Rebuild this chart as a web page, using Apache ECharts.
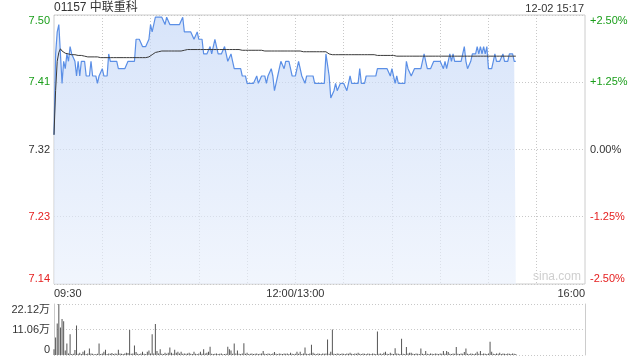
<!DOCTYPE html>
<html><head><meta charset="utf-8">
<script src="https://cdn.jsdelivr.net/npm/echarts@6/dist/echarts.min.js"></script>
<style>html,body{margin:0;padding:0;background:#fff}#c{width:640px;height:360px}</style>
</head><body><div id="c"></div>
<script>
const titleText = '01157 中联重科';
const stampText = '12-02 15:17';
const prevClose = 7.32;
const priceMin = 7.137, priceMax = 7.503, priceStep = 0.0915;
const pctMin = -2.5, pctMax = 2.5, pctStep = 1.25;
const volMax = 22.12, volStep = 11.06;
const xTickLabels = {0: '09:30', 150: '12:00/13:00', 330: '16:00'};
const gridEvery = 30;

// one-minute price (HKD), 09:30 -> 15:17
const price = [
7.34,7.45,7.48,7.49,7.49,7.41,7.44,7.43,7.45,7.44,
7.46,7.45,7.45,7.44,7.42,7.44,7.42,7.44,7.44,7.44,
7.42,7.42,7.42,7.44,7.42,7.42,7.42,7.41,7.42,7.42,
7.43,7.42,7.42,7.42,7.45,7.44,7.44,7.44,7.44,7.44,
7.43,7.43,7.43,7.43,7.43,7.43,7.44,7.44,7.44,7.44,
7.44,7.47,7.47,7.47,7.47,7.46,7.46,7.46,7.46,7.47,
7.49,7.48,7.48,7.50,7.50,7.50,7.50,7.50,7.50,7.49,
7.50,7.50,7.49,7.49,7.49,7.49,7.49,7.49,7.49,7.49,
7.50,7.48,7.48,7.48,7.48,7.48,7.48,7.47,7.47,7.48,
7.47,7.47,7.47,7.45,7.45,7.45,7.45,7.46,7.45,7.45,
7.47,7.46,7.45,7.45,7.45,7.45,7.46,7.45,7.44,7.44,
7.45,7.44,7.43,7.43,7.43,7.43,7.43,7.42,7.42,7.42,
7.41,7.41,7.41,7.41,7.41,7.41,7.42,7.41,7.41,7.42,
7.42,7.42,7.41,7.42,7.42,7.43,7.42,7.40,7.41,7.42,
7.43,7.44,7.44,7.43,7.44,7.44,7.44,7.43,7.42,7.42,
7.42,7.42,7.44,7.43,7.42,7.42,7.41,7.42,7.42,7.42,
7.42,7.42,7.41,7.41,7.41,7.41,7.41,7.41,7.41,7.45,
7.45,7.42,7.39,7.39,7.40,7.41,7.40,7.40,7.41,7.41,
7.41,7.41,7.40,7.41,7.42,7.41,7.41,7.41,7.41,7.41,
7.43,7.41,7.41,7.41,7.42,7.42,7.42,7.42,7.42,7.42,
7.42,7.43,7.43,7.43,7.43,7.43,7.43,7.43,7.43,7.42,
7.43,7.42,7.41,7.42,7.41,7.41,7.41,7.41,7.41,7.44,
7.43,7.43,7.42,7.42,7.43,7.43,7.43,7.43,7.43,7.43,
7.45,7.44,7.43,7.43,7.43,7.43,7.44,7.44,7.44,7.44,
7.44,7.44,7.43,7.44,7.43,7.43,7.45,7.44,7.45,7.44,
7.44,7.44,7.44,7.44,7.45,7.46,7.44,7.43,7.43,7.44,
7.45,7.45,7.45,7.46,7.45,7.46,7.45,7.46,7.45,7.46,
7.43,7.43,7.43,7.44,7.45,7.44,7.44,7.44,7.44,7.45,
7.44,7.44,7.44,7.45,7.45,7.45,7.44,7.44
];

// one-minute average price
const avgPrice = [
7.340,7.400,7.440,7.452,7.457,7.454,7.452,7.451,7.450,7.450,
7.449,7.449,7.449,7.449,7.448,7.448,7.448,7.448,7.447,7.447,
7.447,7.446,7.446,7.446,7.446,7.446,7.446,7.446,7.445,7.445,
7.445,7.445,7.445,7.445,7.445,7.445,7.445,7.445,7.445,7.445,
7.445,7.445,7.445,7.445,7.445,7.445,7.445,7.445,7.445,7.445,
7.445,7.445,7.445,7.445,7.445,7.445,7.445,7.445,7.445,7.446,
7.447,7.449,7.451,7.452,7.452,7.453,7.454,7.454,7.454,7.454,
7.454,7.454,7.454,7.454,7.454,7.454,7.454,7.454,7.454,7.454,
7.455,7.455,7.456,7.456,7.456,7.456,7.456,7.456,7.456,7.456,
7.456,7.456,7.456,7.456,7.456,7.456,7.456,7.456,7.456,7.456,
7.456,7.456,7.456,7.456,7.456,7.456,7.456,7.456,7.456,7.456,
7.456,7.456,7.456,7.456,7.456,7.456,7.456,7.455,7.455,7.455,
7.455,7.455,7.455,7.455,7.455,7.455,7.455,7.455,7.455,7.455,
7.454,7.454,7.454,7.454,7.454,7.454,7.454,7.454,7.454,7.454,
7.454,7.454,7.454,7.454,7.454,7.454,7.454,7.454,7.454,7.454,
7.454,7.454,7.454,7.454,7.454,7.453,7.453,7.453,7.453,7.453,
7.453,7.453,7.453,7.453,7.453,7.453,7.453,7.453,7.453,7.453,
7.451,7.450,7.449,7.449,7.449,7.449,7.449,7.449,7.449,7.449,
7.449,7.449,7.449,7.449,7.449,7.449,7.449,7.449,7.449,7.449,
7.449,7.449,7.449,7.449,7.449,7.449,7.449,7.449,7.449,7.449,
7.448,7.448,7.448,7.448,7.448,7.448,7.448,7.448,7.448,7.448,
7.448,7.448,7.448,7.447,7.447,7.447,7.447,7.447,7.447,7.447,
7.447,7.447,7.447,7.447,7.447,7.447,7.447,7.447,7.447,7.447,
7.447,7.447,7.447,7.447,7.447,7.447,7.447,7.447,7.447,7.447,
7.447,7.447,7.447,7.447,7.447,7.447,7.447,7.447,7.447,7.447,
7.447,7.447,7.447,7.447,7.447,7.447,7.447,7.447,7.447,7.447,
7.447,7.447,7.447,7.447,7.447,7.447,7.447,7.447,7.447,7.447,
7.447,7.447,7.447,7.447,7.447,7.447,7.447,7.447,7.447,7.447,
7.447,7.447,7.447,7.447,7.447,7.447,7.447,7.447
];

// one-minute volume (万股)
const volume = [
2.5,7.6,13.7,22.12,11.9,15.6,14.6,2.0,5.0,0.6,
9.0,0.4,0.5,2.2,12.8,0.5,1.0,0.4,1.4,2.0,
0.4,0.6,2.8,0.6,0.5,0.3,0.4,0.5,5.0,0.4,
0.6,1.4,2.3,0.4,0.6,0.5,0.9,0.4,0.6,0.5,
2.3,0.7,0.5,0.4,0.6,1.0,0.9,10.8,0.5,0.6,
4.1,1.3,0.5,0.4,0.6,1.4,0.5,0.4,1.4,2.0,
0.7,9.0,0.6,13.4,1.7,0.6,2.5,0.5,0.4,1.0,
0.5,1.0,3.2,1.0,0.5,2.3,1.0,1.4,0.6,1.4,
0.5,0.6,0.5,0.6,1.0,0.5,0.4,1.4,0.5,0.4,
0.6,1.4,0.5,2.5,0.6,1.0,1.4,3.6,0.5,0.4,
0.5,0.6,0.4,0.5,0.6,0.3,0.4,0.5,3.6,2.5,
2.0,0.5,5.0,0.6,2.0,0.5,0.4,0.6,5.1,0.5,
1.0,0.4,0.5,0.6,0.4,0.5,0.6,0.4,0.5,0.6,
1.7,0.5,0.4,0.6,0.5,0.4,0.6,1.3,0.5,0.4,
0.6,0.5,0.4,0.6,0.5,0.6,0.4,1.0,0.5,0.4,
0.5,1.4,0.5,1.4,0.4,0.6,3.2,0.5,0.4,0.6,
4.4,1.0,0.5,0.4,0.6,0.5,0.4,0.6,0.5,0.6,
6.7,0.5,1.4,11.06,0.5,0.4,0.6,0.5,0.4,0.6,
0.5,0.4,0.6,0.5,1.0,0.5,0.4,0.6,0.5,1.0,
0.5,0.4,0.6,0.5,0.4,0.6,0.5,0.4,0.6,0.5,
0.4,10.2,0.5,0.6,0.4,1.0,1.4,0.5,0.4,1.0,
0.5,0.4,2.9,0.6,0.5,0.4,7.1,0.5,0.4,3.5,
0.6,1.0,1.0,0.5,0.4,0.6,0.5,0.4,2.8,0.5,
0.4,1.7,0.5,0.4,0.6,0.5,0.4,0.6,0.5,0.4,
0.6,0.5,1.7,0.5,1.7,1.3,0.5,0.4,0.6,0.5,
3.5,0.5,0.4,0.6,0.5,1.3,2.8,0.5,0.4,0.6,
0.5,0.4,0.6,1.4,0.5,1.7,0.4,0.6,0.5,0.4,
0.6,5.7,1.4,0.5,0.4,0.6,0.5,1.0,0.4,0.6,
0.5,0.4,0.6,0.5,0.4,0.6,0.5,0.4
];

// minute categories 09:30-12:00, 13:00-16:00 (lunch break collapsed)
const minutes = [];
function hm(t){const h=Math.floor(t/60),m=t%60;return (h<10?'0':'')+h+':'+(m<10?'0':'')+m;}
for (let i = 0; i <= 330; i++) {
  minutes.push(i <= 150 ? hm(570 + i) : hm(780 + i - 150));
}

const FONT = "'Liberation Sans', Arial, 'Noto Sans CJK SC', sans-serif";
const GREEN = '#1a9e1a', RED = '#e52020', DARK = '#333';
const gridLine = {show: true, lineStyle: {color: '#c8c8c8', type: [1, 2], width: 1}};

const chart = echarts.init(document.getElementById('c'), null, {renderer: 'canvas'});
chart.setOption({
  animation: false,
  backgroundColor: '#fff',
  title: {
    text: titleText, left: 54, top: 2, padding: 0,
    textStyle: {fontSize: 12, fontWeight: 'normal', color: DARK, fontFamily: FONT}
  },
  graphic: [
    {type: 'text', right: 56, top: 3, style: {text: stampText, fill: DARK, font: '11px ' + FONT}},
    {type: 'text', left: 533, top: 271, style: {text: 'sina.com', fill: '#cfcfcf', font: '12px ' + FONT}}
  ],
  grid: [
    {left: 54, right: 55, top: 15, height: 269, show: true, borderColor: '#cccccc', borderWidth: 1},
    {left: 54, right: 55, top: 304, height: 51}
  ],
  xAxis: [
    {
      type: 'category', gridIndex: 0, data: minutes, boundaryGap: false,
      axisLine: {show: false}, axisTick: {show: false},
      axisLabel: {
        interval: (i) => xTickLabels[i] !== undefined,
        formatter: (v, i) => xTickLabels[i] || '',
        color: DARK, fontSize: 11, fontFamily: FONT, margin: 4,
        alignMinLabel: 'left', alignMaxLabel: 'right'
      },
      splitLine: {show: true, interval: (i) => i % gridEvery === 0 && i > 0 && i < 330,
        lineStyle: {color: '#c8c8c8', type: [1, 2], width: 1}}
    },
    {
      type: 'category', gridIndex: 1, data: minutes, boundaryGap: false,
      axisLine: {show: false}, axisTick: {show: false}, axisLabel: {show: false}, splitLine: {show: false}
    }
  ],
  yAxis: [
    {
      type: 'value', gridIndex: 0, min: priceMin, max: priceMax, interval: priceStep,
      axisLine: {show: false}, axisTick: {show: false}, splitLine: gridLine,
      axisLabel: {
        formatter: (v) => v.toFixed(2), fontSize: 11, fontFamily: FONT, margin: 4,
        color: (v) => { const x = parseFloat(v); return Math.abs(x - prevClose) < 0.001 ? DARK : (x > prevClose ? GREEN : RED); },
        verticalAlignMinLabel: 'bottom', verticalAlignMaxLabel: 'top'
      }
    },
    {
      type: 'value', gridIndex: 0, position: 'right', min: pctMin, max: pctMax, interval: pctStep,
      axisLine: {show: false}, axisTick: {show: false}, splitLine: {show: false},
      axisLabel: {
        formatter: (v) => (v > 0.0001 ? '+' : '') + (Math.abs(v) < 0.0001 ? 0 : v).toFixed(2) + '%',
        fontSize: 11, fontFamily: FONT, margin: 5,
        color: (v) => { const x = parseFloat(v); return Math.abs(x) < 0.0001 ? DARK : (x > 0 ? GREEN : RED); },
        verticalAlignMinLabel: 'bottom', verticalAlignMaxLabel: 'top'
      }
    },
    {
      type: 'value', gridIndex: 1, min: 0, max: volMax, interval: volStep,
      axisLine: {show: true, lineStyle: {color: '#cccccc'}}, axisTick: {show: false}, splitLine: gridLine,
      axisLabel: {
        formatter: (v) => v < 0.001 ? '0' : v.toFixed(2) + '万',
        color: DARK, fontSize: 11, fontFamily: FONT, margin: 4,
        verticalAlignMinLabel: 'bottom', verticalAlignMaxLabel: 'top'
      }
    },
    {
      type: 'value', gridIndex: 1, position: 'right', min: 0, max: volMax,
      axisLine: {show: true, lineStyle: {color: '#cccccc'}}, axisTick: {show: false},
      axisLabel: {show: false}, splitLine: {show: false}
    }
  ],
  series: [
    {
      name: 'price', type: 'line', xAxisIndex: 0, yAxisIndex: 0, data: price,
      symbol: 'none', z: 3,
      lineStyle: {color: '#5b8fe6', width: 1.2},
      areaStyle: {origin: 'start', color: new echarts.graphic.LinearGradient(0, 0, 0, 1, [
        {offset: 0, color: 'rgba(196,215,247,0.95)'},
        {offset: 1, color: 'rgba(233,240,252,0.9)'}
      ])}
    },
    {
      name: 'avg', type: 'line', xAxisIndex: 0, yAxisIndex: 0, data: avgPrice,
      symbol: 'none', z: 4, lineStyle: {color: '#3a3a3a', width: 1}
    },
    {
      name: 'volume', type: 'bar', xAxisIndex: 1, yAxisIndex: 2, data: volume,
      barWidth: 1, itemStyle: {color: '#555555'}
    }
  ]
});
</script>
</body></html>
